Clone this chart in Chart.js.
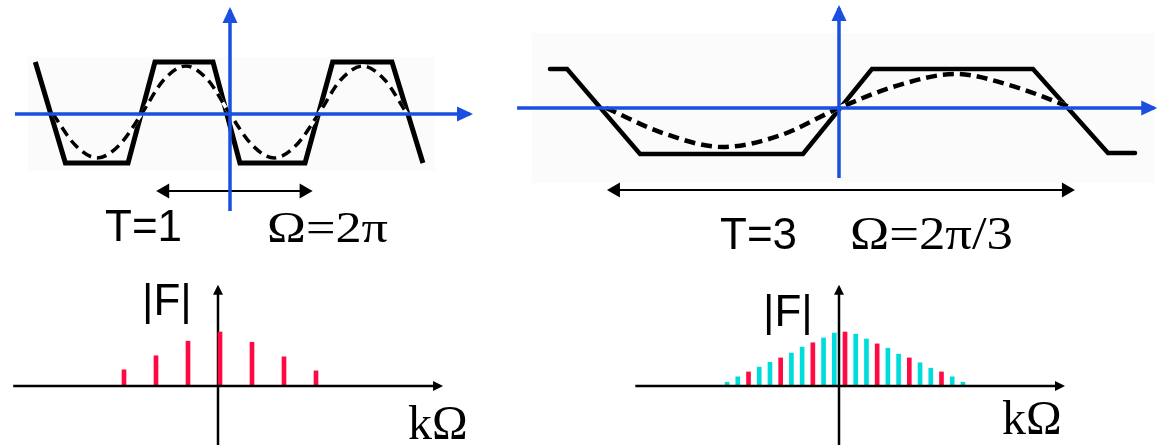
<!DOCTYPE html>
<html>
<head>
<meta charset="utf-8">
<script src="https://cdn.jsdelivr.net/npm/chart.js@4.4.1/dist/chart.umd.min.js"></script>
<style>
  html, body { margin: 0; padding: 0; background: #fff; }
  #wrap { position: relative; width: 1164px; height: 445px; }
</style>
</head>
<body>
<div id="wrap"><canvas id="chart" width="1164" height="445"></canvas></div>
<script>
// ---- values ----
// top left, T = 1 : t in periods, y in amplitude units
const trapT1X = [-1.10, -0.93, -0.576, -0.424, -0.096, 0.056, 0.424, 0.58, 0.915, 1.09];
const trapT1Y = [1.04, -0.98, -0.98, 1.04, 1.04, -0.98, -0.98, 1.04, 1.04, -0.98];
const sineT1X = [-1, -0.875, -0.75, -0.625, -0.5, -0.375, -0.25, -0.125, 0, 0.125, 0.25, 0.375, 0.5, 0.625, 0.75, 0.875, 1];
const sineT1Y = [0, -0.62, -0.88, -0.62, 0, 0.68, 0.96, 0.68, 0, -0.62, -0.88, -0.62, 0, 0.68, 0.96, 0.68, 0];
const periodT1 = [-0.40, 0.45];

// top right, T = 3
const trapT3X = [-1.861, -1.751, -1.281, -0.232, 0.212, 1.249, 1.732, 1.906];
const trapT3Y = [0.975, 0.975, -1.15, -1.15, 0.975, 0.975, -1.125, -1.125];
const sineT3X = [-1.5, -1.125, -0.75, -0.375, 0, 0.375, 0.75, 1.125, 1.5];
const sineT3Y = [0, -0.64, -0.975, -0.68, 0, 0.56, 0.85, 0.54, 0];
const periodT3 = [-1.475, 1.50];

// bottom: |F| against k
const specT1K = [-3, -2, -1, 0, 1, 2, 3];
const specT1Mag = [0.30, 0.56, 0.83, 1.0, 0.81, 0.54, 0.28];
const specT3K = [-11, -10, -9, -8, -7, -6, -5, -4, -3, -2, -1, 0, 1, 2, 3, 4, 5, 6, 7, 8, 9, 10, 11];
const specT3Mag = [0.07, 0.17, 0.26, 0.35, 0.44, 0.52, 0.61, 0.72, 0.80, 0.89, 0.98, 1.0,
                   0.96, 0.87, 0.78, 0.70, 0.59, 0.52, 0.43, 0.33, 0.26, 0.17, 0.07];

// ---- layout ----
const W = 1164, H = 445;
const BLUE = '#1a4fe0', RED = '#ff0a45', CYAN = '#00dcdc';

// origin pixel and pixels per unit for each panel
const panels = {
  a: { ox: 230, oy: 114, ux: 177, uy: 50 },
  b: { ox: 839, oy: 108, ux: 155.3, uy: 40 },
  c: { ox: 218, oy: 386, ux: 32.0, uy: 54 },
  d: { ox: 839, oy: 386, ux: 10.72, uy: 54 }
};

const pts = (xs, ys) => xs.map((x, i) => ({ x, y: ys[i] }));

const scales = {};
for (const [id, p] of Object.entries(panels)) {
  scales['x' + id] = { type: 'linear', display: false, offset: false,
    min: -p.ox / p.ux, max: (W - p.ox) / p.ux };
  scales['y' + id] = { type: 'linear', display: false, offset: false,
    min: (p.oy - H) / p.uy, max: p.oy / p.uy };
}

function line(id, data, extra) {
  return Object.assign({
    type: 'line', xAxisID: 'x' + id, yAxisID: 'y' + id, data,
    pointRadius: 0, fill: false, borderJoinStyle: 'miter', borderCapStyle: 'butt'
  }, extra);
}

const datasets = [
  // blue / black axes (on top)
  line('a', [{ x: -1.215, y: 0 }, { x: 1.356, y: 0 }], { borderColor: BLUE, borderWidth: 3.5, order: 1, arrow: { length: 16, width: 15 } }),
  line('a', [{ x: 0, y: -1.94 }, { x: 0, y: 2.08 }], { borderColor: BLUE, borderWidth: 3.5, order: 1, arrow: { length: 16, width: 15 } }),
  line('b', [{ x: -2.073, y: 0 }, { x: 2.03, y: 0 }], { borderColor: BLUE, borderWidth: 3.5, order: 1, arrow: { length: 16, width: 15 } }),
  line('b', [{ x: 0, y: -1.75 }, { x: 0, y: 2.50 }], { borderColor: BLUE, borderWidth: 3.5, order: 1, arrow: { length: 16, width: 15 } }),
  line('a', periodT1.map(x => ({ x, y: -1.54 })), { borderColor: '#000', borderWidth: 2, order: 1, arrow: { length: 13, width: 15, both: true } }),
  line('b', periodT3.map(x => ({ x, y: -2.05 })), { borderColor: '#000', borderWidth: 2, order: 1, arrow: { length: 13, width: 15, both: true } }),
  line('c', [{ x: -6.4, y: 0 }, { x: 6.94, y: 0 }], { borderColor: '#000', borderWidth: 2.5, order: 1, arrow: { length: 10, width: 10 } }),
  line('c', [{ x: 0, y: -1.2 }, { x: 0, y: 1.82 }], { borderColor: '#000', borderWidth: 2.5, order: 3, arrow: { length: 10, width: 10 } }),
  line('d', [{ x: -19.0, y: 0 }, { x: 20.8, y: 0 }], { borderColor: '#000', borderWidth: 2.5, order: 1, arrow: { length: 10, width: 10 } }),
  line('d', [{ x: 0, y: -1.2 }, { x: 0, y: 1.82 }], { borderColor: '#000', borderWidth: 2.5, order: 3, arrow: { length: 10, width: 10 } }),

  // dashed sine approximations
  line('a', pts(sineT1X, sineT1Y), { borderColor: '#000', borderWidth: 3.5, borderDash: [10, 6], cubicInterpolationMode: 'monotone', order: 4 }),
  line('a', pts(sineT1X, sineT1Y), { borderColor: '#fff', borderWidth: 3.5, cubicInterpolationMode: 'monotone', order: 5 }),
  line('b', pts(sineT3X, sineT3Y), { borderColor: '#000', borderWidth: 4.5, borderDash: [11, 6], cubicInterpolationMode: 'monotone', order: 4 }),
  line('b', pts(sineT3X, sineT3Y), { borderColor: '#fff', borderWidth: 4.5, cubicInterpolationMode: 'monotone', order: 5 }),

  // trapezoid signals
  line('a', pts(trapT1X, trapT1Y), { borderColor: '#000', borderWidth: 5, order: 6 }),
  line('b', pts(trapT3X, trapT3Y), { borderColor: '#000', borderWidth: 4.5, borderCapStyle: 'round', order: 6 }),

  // spectra
  {
    type: 'bar', xAxisID: 'xc', yAxisID: 'yc', data: pts(specT1K, specT1Mag),
    barThickness: 4, backgroundColor: RED, borderWidth: 0, order: 2
  },
  {
    type: 'bar', xAxisID: 'xd', yAxisID: 'yd', data: pts(specT3K, specT3Mag),
    barThickness: 4, borderWidth: 0, order: 2,
    backgroundColor: ctx => (specT3K[ctx.dataIndex] % 3 === 0 ? RED : CYAN)
  }
];

const labels = [
  { text: 'T=1', x: 105, y: 241, font: '44px "Liberation Sans", Arial, sans-serif' },
  { text: 'Ω=2π', x: 267, y: 242, font: '44px "Liberation Serif", "Times New Roman", serif', width: 121 },
  { text: 'T=3', x: 720, y: 249, font: '44px "Liberation Sans", Arial, sans-serif' },
  { text: 'Ω=2π/3', x: 850, y: 249, font: '46px "Liberation Serif", "Times New Roman", serif', width: 163 },
  { text: '|F|', x: 142, y: 315, font: '44px "Liberation Sans", Arial, sans-serif' },
  { text: '|F|', x: 763, y: 326, font: '44px "Liberation Sans", Arial, sans-serif' },
  { text: 'kΩ', x: 408, y: 439, font: '48px "Liberation Serif", "Times New Roman", serif' },
  { text: 'kΩ', x: 1002, y: 434, font: '48px "Liberation Serif", "Times New Roman", serif' }
];

const bgBoxes = [
  { x: 28, y: 57, w: 407, h: 114 },
  { x: 532, y: 33, w: 623, h: 150 }
];

const backdrop = {
  id: 'backdrop',
  beforeDatasetsDraw(chart) {
    const ctx = chart.ctx;
    ctx.save();
    ctx.fillStyle = '#fbfbfb';
    bgBoxes.forEach(b => ctx.fillRect(b.x, b.y, b.w, b.h));
    ctx.restore();
  }
};

const arrowHeads = {
  id: 'arrowHeads',
  afterDatasetsDraw(chart) {
    const ctx = chart.ctx;
    chart.data.datasets.forEach((ds, i) => {
      if (!ds.arrow) return;
      const p = chart.getDatasetMeta(i).data;
      const ends = [[p[p.length - 2], p[p.length - 1]]];
      if (ds.arrow.both) ends.push([p[1], p[0]]);
      ends.forEach(([a, b]) => {
        const ang = Math.atan2(b.y - a.y, b.x - a.x);
        const L = ds.arrow.length, hw = ds.arrow.width / 2, over = 3;
        ctx.save();
        ctx.translate(b.x, b.y);
        ctx.rotate(ang);
        ctx.beginPath();
        ctx.moveTo(over, 0);
        ctx.lineTo(over - L, -hw);
        ctx.lineTo(over - L, hw);
        ctx.closePath();
        ctx.fillStyle = ds.borderColor;
        ctx.fill();
        ctx.restore();
      });
    });
  }
};

const textLabels = {
  id: 'textLabels',
  afterDraw(chart) {
    const ctx = chart.ctx;
    labels.forEach(l => {
      ctx.save();
      ctx.font = l.font;
      ctx.fillStyle = '#000';
      ctx.textBaseline = 'alphabetic';
      ctx.textAlign = 'left';
      ctx.translate(l.x, l.y);
      if (l.width) ctx.scale(l.width / ctx.measureText(l.text).width, 1);
      ctx.fillText(l.text, 0, 0);
      ctx.restore();
    });
  }
};

new Chart(document.getElementById('chart'), {
  type: 'line',
  data: { datasets },
  options: {
    responsive: false,
    animation: false,
    devicePixelRatio: 1,
    layout: { padding: 0 },
    plugins: { legend: { display: false }, tooltip: { enabled: false } },
    scales
  },
  plugins: [backdrop, arrowHeads, textLabels]
});
</script>
</body>
</html>
